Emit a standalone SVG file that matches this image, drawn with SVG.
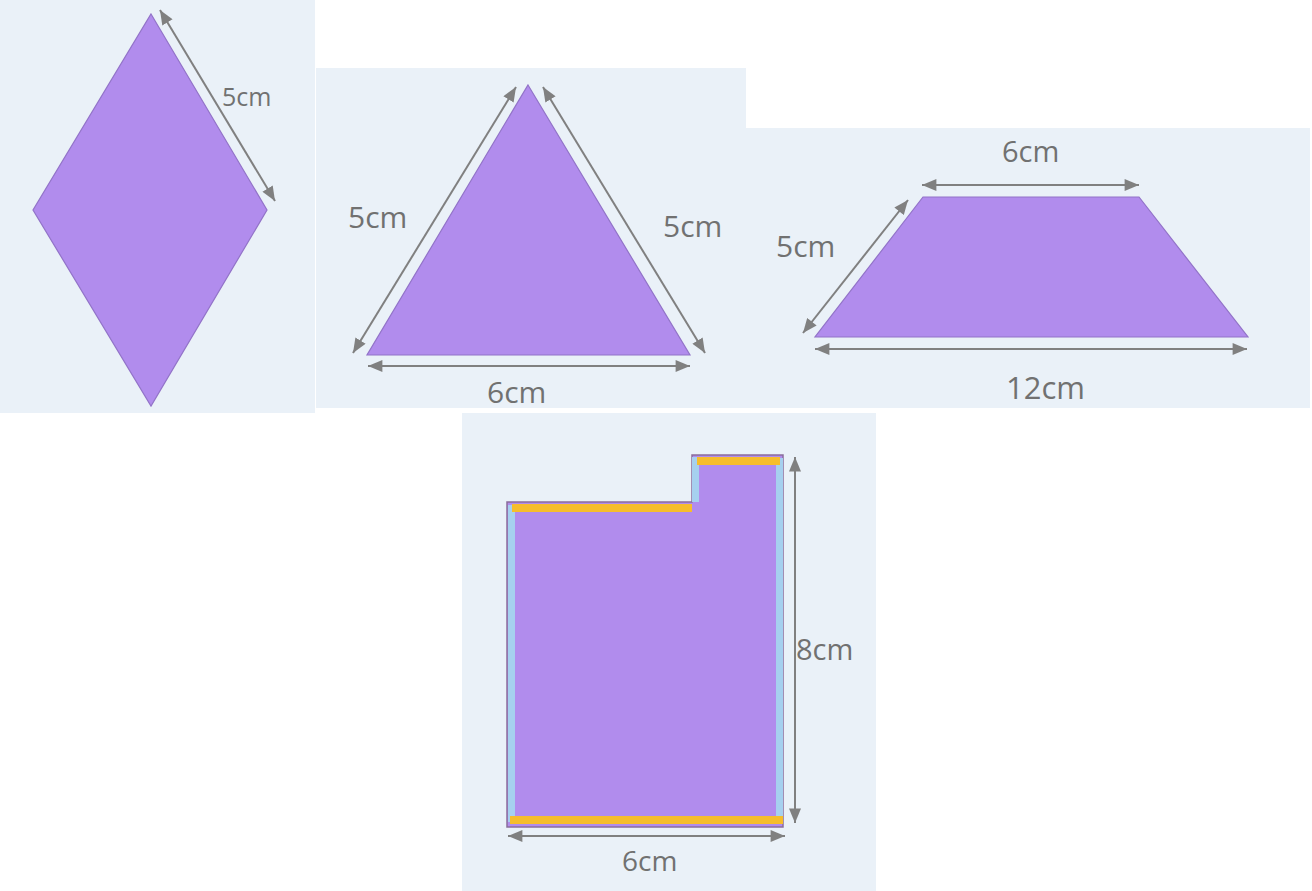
<svg xmlns="http://www.w3.org/2000/svg" width="1312" height="891" viewBox="0 0 1312 891">
<defs>
<style>
.bg{fill:#eaf1f8}
.shape{fill:#b18ced;stroke:#9273c8;stroke-width:1.2}
.dim{stroke:#808080;stroke-width:2;fill:none;marker-start:url(#ah);marker-end:url(#ah)}
.lbl{font-family:"Open Sans","DejaVu Sans",sans-serif;fill:#717171}
.yel{fill:#f6bd2c}
.blu{fill:#a6d0ef}
</style>
<marker id="ah" viewBox="0 0 12 10" refX="12" refY="5" markerWidth="15" markerHeight="12" markerUnits="userSpaceOnUse" orient="auto-start-reverse">
<path d="M0,0 L12,5 L0,10 z" fill="#808080"/>
</marker>
</defs>
<rect width="1312" height="891" fill="#ffffff"/>
<g id="panels">
<rect class="bg" x="0" y="0" width="315" height="413"/>
<rect class="bg" x="316" y="68" width="430" height="340"/>
<rect class="bg" x="746" y="128" width="564" height="280"/>
<rect class="bg" x="462" y="413" width="414" height="478"/>
</g>
<g id="rhombus">
<polygon class="shape" points="151,14 267,210 151,406 33,210"/>
<text class="lbl" x="222" y="106" font-size="25">5cm</text>
</g>
<g id="triangle">
<polygon class="shape" points="528,85 690,355 367,355"/>
<text class="lbl" x="348" y="228" font-size="30">5cm</text>
<text class="lbl" x="663" y="237" font-size="30">5cm</text>
<text class="lbl" x="487" y="403" font-size="30">6cm</text>
</g>
<g id="trapezoid">
<polygon class="shape" points="923,197 1139,197 1248,337 815,337"/>
<text class="lbl" x="1002" y="162" font-size="29">6cm</text>
<text class="lbl" x="776" y="257" font-size="30">5cm</text>
<text class="lbl" x="1006" y="399" font-size="31">12cm</text>
</g>
<g id="lshape">
<polygon points="507,502 692,502 692,455 783,455 783,827 507,827" fill="#b18ced" stroke="#8a6d9c" stroke-width="1.5"/>
<rect class="blu" x="508" y="505" width="7" height="317"/>
<rect class="blu" x="776" y="458" width="7" height="364"/>
<rect class="blu" x="692" y="457" width="7" height="45"/>
<rect class="yel" x="512" y="504" width="180" height="8"/>
<rect class="yel" x="697" y="457" width="83" height="8"/>
<rect class="yel" x="510" y="816" width="273" height="8"/>
<text class="lbl" x="796" y="660" font-size="29">8cm</text>
<text class="lbl" x="622" y="871" font-size="28">6cm</text>
</g>
<g id="connectors">
<line class="dim" x1="160" y1="10" x2="275" y2="201"/>
<line class="dim" x1="353" y1="353" x2="516" y2="87"/>
<line class="dim" x1="543" y1="87" x2="705" y2="353"/>
<line class="dim" x1="368" y1="366" x2="690" y2="366"/>
<line class="dim" x1="922" y1="185" x2="1139" y2="185"/>
<line class="dim" x1="803" y1="333" x2="908" y2="200"/>
<line class="dim" x1="815" y1="349" x2="1247" y2="349"/>
<line class="dim" x1="795" y1="457" x2="795" y2="823"/>
<line class="dim" x1="508" y1="836" x2="785" y2="836"/>
</g>
</svg>
